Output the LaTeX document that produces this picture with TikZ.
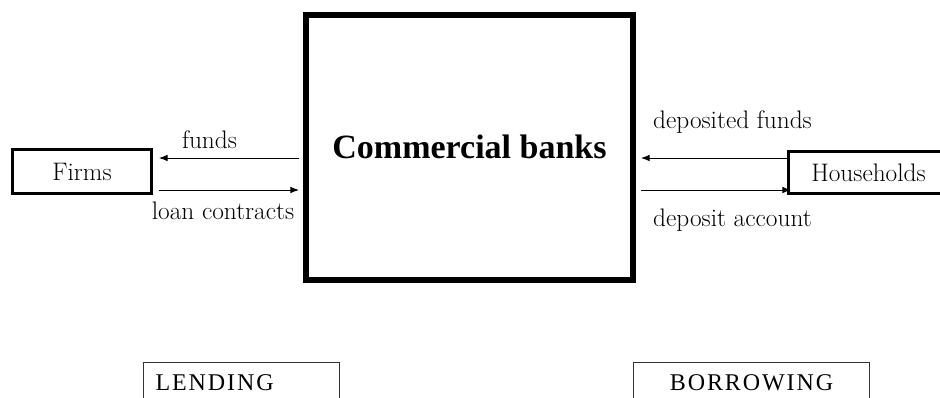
\documentclass[tikz,border=0pt]{standalone}
\usepackage{fontspec}
\usetikzlibrary{arrows.meta}
\newfontfamily\capsfont[LetterSpace=8]{Liberation Serif}
\newfontfamily\bankfont{Liberation Serif}
\tikzset{
  bigbox/.style={draw, line width=4.5pt, minimum width=245.25pt, minimum height=198.75pt, inner sep=0pt,
    font=\bankfont\bfseries\fontsize{25.5}{30}\selectfont},
  agent/.style={draw, line width=2.25pt, inner sep=0pt, font=\fontsize{19}{22}\selectfont},
  flow/.style={line width=0.75pt, -{Latex[length=6.5pt,width=5pt]}},
  lbl/.style={inner sep=0pt, font=\fontsize{19}{22}\selectfont},
  sector/.style={draw=black!80, line width=0.8pt, anchor=north west, inner xsep=9pt, inner ysep=9pt,
    text depth=30pt, font=\capsfont\fontsize{18}{21}\selectfont}
}
\begin{document}
\begin{tikzpicture}[x=0.75pt,y=-0.75pt]
\useasboundingbox (0,0) rectangle (940,397);
\fill[white] (0,0) rectangle (940,397);
\node[bigbox] (bank) at (469.5,147) {Commercial banks};
\node[agent, minimum width=104.25pt, minimum height=33pt] (firms) at (82,171.5) {Firms};
\node[agent, minimum width=120pt, minimum height=31.5pt] (house) at (868.5,172.5) {Households};
\draw[flow, shorten <=3pt, shorten >=4.5pt] (bank.west |- 0,158) -- (firms.east |- 0,158);
\draw[flow, shorten <=4.5pt, shorten >=3pt] (firms.east |- 0,190) -- (bank.west |- 0,190);
\draw[flow, shorten >=3.75pt] (house.west |- 0,158) -- (bank.east |- 0,158);
\draw[flow, shorten <=3.75pt, shorten >=-3pt] (bank.east |- 0,190) -- (house.west |- 0,190);
\node[lbl] (lfunds) at (209.5,140) {funds};
\node[lbl] (lloan) at (223,211) {loan contracts};
\node[lbl] (ldepf) at (732.5,122.5) {deposited funds};
\node[lbl] (ldepa) at (732.5,220) {deposit account};
\node[sector, text width=129pt, align=left] (lend) at (143,362) {LENDING};
\node[sector, text width=159pt, align=center] (borrow) at (633,362) {BORROWING};
\end{tikzpicture}
\end{document}
